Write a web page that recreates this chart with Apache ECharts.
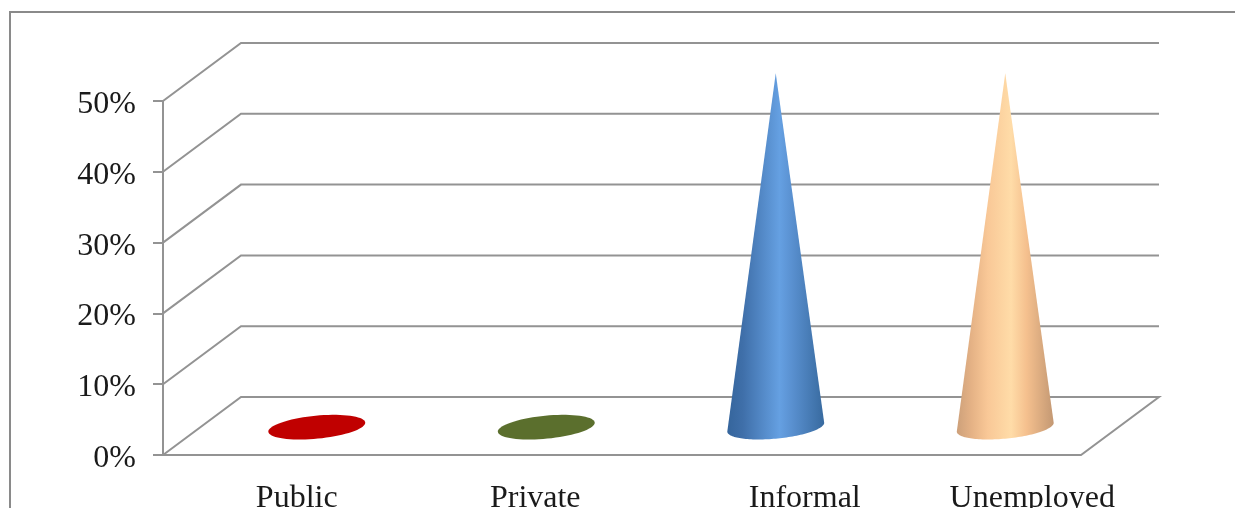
<!DOCTYPE html>
<html>
<head>
<meta charset="utf-8">
<style>html,body{margin:0;padding:0;background:#fff;overflow:hidden}#chart{width:1235px;height:508px}</style>
<script src="https://cdn.jsdelivr.net/npm/echarts@6/dist/echarts.min.js"></script>
</head>
<body>
<div id="chart"></div>
<script>
// Employment status shares
const categories = ['Public', 'Private', 'Informal', 'Unemployed'];
const shares = [0, 0, 50, 50];
const gridTicks = [0, 10, 20, 30, 40, 50];

// Horizontal nudge of each category caption, in pixels
const captionShift = [19, 28, 68, 66];

// Oblique projection of the floor depth
const DEPTH_X = 78, DEPTH_Y = 58;
const LINE = '#939393';
const SERIF = '"Liberation Serif", "Times New Roman", serif';

const sideShade = stops => ({
  type: 'linear', x: 0, y: 0, x2: 1, y2: 0,
  colorStops: stops.map(([offset, color]) => ({ offset, color }))
});
const fills = [
  '#c00000',
  '#5b6f2d',
  sideShade([[0, '#35659c'], [0.16, '#3f6fa9'], [0.54, '#65a0e2'], [0.66, '#5a91d1'], [1, '#386a9f']]),
  sideShade([[0, '#cda07a'], [0.16, '#e6b386'], [0.32, '#f9c897'], [0.56, '#ffdca8'], [0.72, '#f5c08e'], [1, '#c39873']])
];

// Back wall and floor: each tick runs along the side wall, then across the back
function renderWall(params, api) {
  const v = api.value(0);
  const cs = params.coordSys;
  const y = api.coord([0, v])[1];
  const left = cs.x, right = cs.x + cs.width;
  const points = [[left, y], [left + DEPTH_X, y - DEPTH_Y], [right + DEPTH_X, y - DEPTH_Y]];
  if (v === 0) points.push([right, y], [left, y]);
  return {
    type: 'polyline',
    shape: { points },
    style: { stroke: LINE, lineWidth: 2, fill: null }
  };
}

// Cone standing in the middle of the floor depth, outlined by its tangents to the base ellipse
function renderCone(params, api) {
  const i = api.value(0), v = api.value(1);
  const band = api.size([1, 0])[0];
  const base = api.coord([i, 0]);
  const top = api.coord([i, v]);
  const cx = base[0] + DEPTH_X / 2, cy = base[1] - DEPTH_Y * 0.48;
  const rx = band * 0.212, ry = band * 0.05;
  const tilt = -5.5 * Math.PI / 180;
  const cos = Math.cos(tilt), sin = Math.sin(tilt);
  const at = t => {
    const ex = rx * Math.cos(t), ey = ry * Math.sin(t);
    return [cx + ex * cos - ey * sin, cy + ex * sin + ey * cos];
  };
  const apex = [cx, cy - (base[1] - top[1])];
  const dx = apex[0] - cx, dy = apex[1] - cy;
  const ux = (dx * cos + dy * sin) / rx, uy = (-dx * sin + dy * cos) / ry;
  const dist = Math.hypot(ux, uy);
  const points = [];
  const STEPS = 72;
  if (dist <= 1) {
    for (let k = 0; k < STEPS; k++) points.push(at(k / STEPS * 2 * Math.PI));
  } else {
    const phi = Math.atan2(uy, ux), spread = Math.acos(1 / dist);
    const from = phi + spread, sweep = 2 * Math.PI - 2 * spread;
    points.push(apex);
    for (let k = 0; k <= STEPS; k++) points.push(at(from + sweep * k / STEPS));
  }
  return {
    type: 'polygon',
    shape: { points },
    style: { fill: fills[i] }
  };
}

const rich = {};
captionShift.forEach((s, i) => {
  rich['c' + i] = {
    fontFamily: SERIF, fontSize: 32, color: '#1a1a1a',
    padding: [0, 0, 0, s * 2]
  };
});

const chart = echarts.init(document.getElementById('chart'), null, { renderer: 'canvas' });
chart.setOption({
  animation: false,
  backgroundColor: '#ffffff',
  graphic: [{
    type: 'rect', z: -1, silent: true,
    shape: { x: 10, y: 12, width: 1400, height: 700 },
    style: { fill: '#fff', stroke: '#8a8a8a', lineWidth: 2 }
  }],
  // The second grid carries only the percent captions, set slightly below their ticks
  grid: [
    { left: 163, right: 154, top: 101, bottom: 53, containLabel: false, outerBoundsMode: 'none' },
    { left: 163, right: 154, top: 104.5, bottom: 49.5, containLabel: false, outerBoundsMode: 'none' }
  ],
  xAxis: [
    {
      type: 'category',
      data: categories,
      axisLine: { show: false },
      axisTick: { show: false },
      axisLabel: {
        interval: 0, margin: 28, hideOverlap: false,
        formatter: (name, idx) => `{c${idx}|${name}}`,
        rich
      }
    },
    { type: 'category', gridIndex: 1, data: categories, show: false }
  ],
  yAxis: [
    {
      type: 'value', min: 0, max: 50, interval: 10,
      splitLine: { show: false },
      axisLine: { show: true, lineStyle: { color: LINE, width: 2 } },
      axisTick: { show: true, length: 10, lineStyle: { color: LINE, width: 2 } },
      axisLabel: { show: false }
    },
    {
      type: 'value', gridIndex: 1, min: 0, max: 50, interval: 10,
      splitLine: { show: false },
      axisLine: { show: false },
      axisTick: { show: false },
      axisLabel: {
        formatter: '{value}%', fontFamily: SERIF, fontSize: 32, color: '#1a1a1a', margin: 27
      }
    }
  ],
  series: [
    {
      type: 'custom', name: 'Walls', z: 1, silent: true, clip: false,
      coordinateSystem: 'cartesian2d',
      encode: { y: 0 },
      data: gridTicks.map(v => [v]),
      renderItem: renderWall
    },
    {
      type: 'custom', name: 'Share', z: 3, silent: true, clip: false,
      coordinateSystem: 'cartesian2d',
      encode: { x: 0, y: 1 },
      data: shares.map((v, i) => [i, v]),
      renderItem: renderCone
    }
  ]
});
</script>
</body>
</html>
